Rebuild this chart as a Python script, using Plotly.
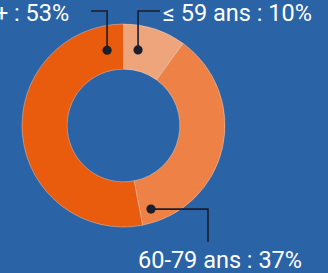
import math
import plotly.graph_objects as go

# ---- data ----
categories = ["≤ 59 ans", "60-79 ans", "80 ans et +"]
shares = [10, 37, 53]
label_texts = [f"{c} : {v}%" for c, v in zip(categories, shares)]

# ---- styling / layout (pixel space of a 328x273 canvas) ----
W, H = 328, 273
BG = "#2A63A6"
colors = ["#EFA57C", "#EE8246", "#E95B0D"]
center = (123.5, 125.5)
radius = 101.5
hole = 0.555
LINE = "#1B1E2B"
FONT = "Roboto"
FONT_SIZE = 23.5

# leader anchor (angle clockwise from 12 o'clock, distance from center), elbow and end points
anchors = [
    dict(angle=10.9, r=77, elbow_y=11, end_x=160, text_x=161, text_y=13, xanchor="left"),
    dict(angle=161.8, r=88, elbow_x=208, end_y=242, text_x=136, text_y=259.5, xanchor="left"),
    dict(angle=347.7, r=77, elbow_y=11, end_x=91, text_x=71, text_y=13, xanchor="right"),
]

fig = go.Figure()
fig.add_trace(go.Pie(
    labels=categories, values=shares, hole=hole, sort=False, direction="clockwise",
    rotation=0, textinfo="none", hoverinfo="label+percent",
    marker=dict(colors=colors, line=dict(color="rgba(255,235,220,0.6)", width=0.6)),
    domain=dict(x=[(center[0] - radius) / W, (center[0] + radius) / W],
                y=[1 - (center[1] + radius) / H, 1 - (center[1] - radius) / H]),
    showlegend=False,
))

shapes = []
annotations = []
for a, txt in zip(anchors, label_texts):
    th = math.radians(a["angle"])
    px = center[0] + a["r"] * math.sin(th)
    py = center[1] - a["r"] * math.cos(th)
    if "elbow_y" in a:
        pts = [(px, py), (px, a["elbow_y"]), (a["end_x"], a["elbow_y"])]
    else:
        pts = [(px, py), (a["elbow_x"], py), (a["elbow_x"], a["end_y"])]
    path = "M " + " L ".join(f"{x},{y}" for x, y in pts)
    shapes.append(dict(type="path", path=path, xref="x", yref="y",
                       line=dict(color=LINE, width=1.6), layer="above"))
    shapes.append(dict(type="circle", xref="x", yref="y", x0=px - 4.6, x1=px + 4.6,
                       y0=py - 4.6, y1=py + 4.6, fillcolor=LINE,
                       line=dict(color=LINE, width=0), layer="above"))
    annotations.append(dict(x=a["text_x"], y=a["text_y"], xref="x", yref="y", text=txt,
                            showarrow=False, xanchor=a["xanchor"], yanchor="middle",
                            font=dict(family=FONT, size=FONT_SIZE, color="white")))

fig.update_layout(
    width=W, height=H, margin=dict(l=0, r=0, t=0, b=0),
    paper_bgcolor=BG, plot_bgcolor=BG,
    xaxis=dict(range=[0, W], visible=False, fixedrange=True),
    yaxis=dict(range=[H, 0], visible=False, fixedrange=True),
    shapes=shapes, annotations=annotations,
)

fig.write_html(
    "out.html",
    config={"displayModeBar": False},
    post_script="document.body.style.margin='0';document.body.style.overflow='hidden';",
)
